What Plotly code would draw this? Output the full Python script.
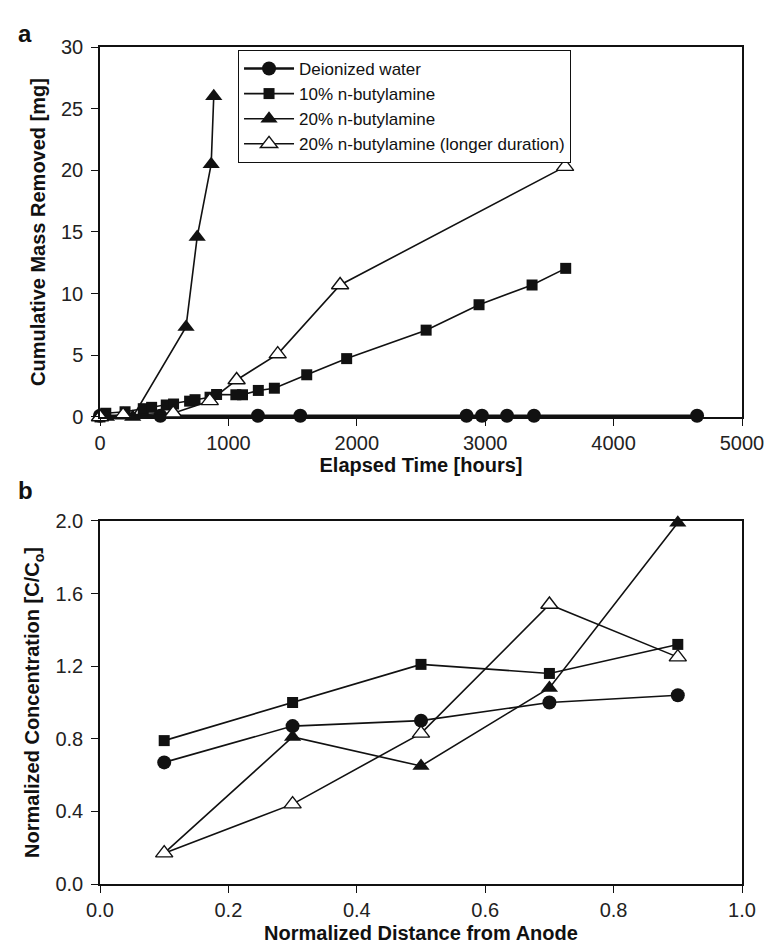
import plotly.graph_objects as go

# ---- panel a data ----
dw_t = [0, 470, 1230, 1560, 2855, 2975, 3170, 3380, 4650]
dw_m = [0.1, 0.1, 0.1, 0.1, 0.1, 0.1, 0.1, 0.1, 0.1]

b10_t = [0, 45, 195, 337, 402, 516, 573, 698, 740, 857, 908, 1058, 1110, 1233, 1358, 1610, 1921, 2540, 2952, 3365, 3627]
b10_m = [0, 0.3, 0.42, 0.67, 0.78, 0.97, 1.05, 1.28, 1.4, 1.6, 1.82, 1.8, 1.8, 2.15, 2.33, 3.42, 4.73, 7.04, 9.1, 10.7, 12.05]

b20_t = [0, 50, 255, 670, 757, 866, 886]
b20_m = [0, 0, 0, 7.3, 14.6, 20.5, 26.0]

b20l_t = [0, 180, 570, 855, 1064, 1384, 1870, 3622]
b20l_m = [0, 0.15, 0.3, 1.3, 3.0, 5.1, 10.7, 20.3]

# ---- panel b data ----
dist = [0.1, 0.3, 0.5, 0.7, 0.9]
c_dw = [0.67, 0.87, 0.90, 1.00, 1.04]
c_b10 = [0.79, 1.00, 1.21, 1.16, 1.32]
c_b20 = [0.17, 0.81, 0.65, 1.08, 1.99]
c_b20l = [0.17, 0.44, 0.83, 1.54, 1.25]

names = ["Deionized water", "10% n-butylamine", "20% n-butylamine",
         "20% n-butylamine (longer duration)"]

BLACK = "#111111"
FONT = "Liberation Sans, Arial, sans-serif"

styles = [
    dict(symbol="circle", size=14, color=BLACK, line=dict(width=0)),
    dict(symbol="square", size=11, color=BLACK, line=dict(width=0)),
    dict(symbol="triangle-up", size=15, color=BLACK, line=dict(width=0)),
    dict(symbol="triangle-up", size=15, color="white", line=dict(width=1.4, color=BLACK)),
]

fig = go.Figure()

top_sets = [(dw_t, dw_m), (b10_t, b10_m), (b20_t, b20_m), (b20l_t, b20l_m)]
for i, (t, m) in enumerate(top_sets):
    fig.add_trace(go.Scatter(
        x=t, y=m, mode="lines+markers", name=names[i],
        line=dict(color=BLACK, width=2.4 if i == 0 else 1.6),
        marker=styles[i], cliponaxis=False,
        xaxis="x", yaxis="y", showlegend=True))

bot_sets = [c_dw, c_b10, c_b20, c_b20l]
for i, c in enumerate(bot_sets):
    fig.add_trace(go.Scatter(
        x=dist, y=c, mode="lines+markers", name=names[i],
        line=dict(color=BLACK, width=1.6),
        marker=styles[i], cliponaxis=False,
        xaxis="x2", yaxis="y2", showlegend=False))

axis_common = dict(
    showline=True, linecolor=BLACK, linewidth=1.5, mirror=True,
    ticks="outside", ticklen=7, tickwidth=1, tickcolor=BLACK,
    showgrid=False, zeroline=False,
    tickfont=dict(family=FONT, size=20, color="#222222"),
    automargin=False,
)
title_font = dict(family=FONT, size=20, color=BLACK)

fig.update_layout(
    width=778, height=952,
    margin=dict(l=100, r=36, t=47, b=68),
    paper_bgcolor="white", plot_bgcolor="white",
    font=dict(family=FONT, color=BLACK),
    xaxis=dict(domain=[0, 1], range=[0, 5000], tickvals=[0, 1000, 2000, 3000, 4000, 5000],
               anchor="y",
               title=dict(text="<b>Elapsed Time [hours]</b>", font=title_font, standoff=3),
               **axis_common),
    yaxis=dict(domain=[0.558, 1], range=[0, 30], tickvals=[0, 5, 10, 15, 20, 25, 30],
               anchor="x", ticklabelstandoff=4,
               title=dict(text="<b>Cumulative Mass Removed [mg]</b>", font=title_font, standoff=10),
               **axis_common),
    xaxis2=dict(domain=[0, 1], range=[0, 1], tickvals=[0, 0.2, 0.4, 0.6, 0.8, 1.0],
                tickformat=".1f", anchor="y2",
                title=dict(text="<b>Normalized Distance from Anode</b>", font=title_font, standoff=6),
                **axis_common),
    yaxis2=dict(domain=[0, 0.4337], range=[0, 2.0], tickvals=[0, 0.4, 0.8, 1.2, 1.6, 2.0],
                tickformat=".1f", anchor="x2", ticklabelstandoff=4,
                title=dict(text="<b>Normalized Concentration [C/C<sub>o</sub>]</b>", font=title_font, standoff=10),
                **axis_common),
    legend=dict(x=0.215, y=0.9965, xanchor="left", yanchor="top",
                bordercolor=BLACK, borderwidth=1, bgcolor="white",
                font=dict(family=FONT, size=17, color=BLACK),
                tracegroupgap=0, itemsizing="trace", itemwidth=50),
)

pw, ph = 778 - 136, 952 - 115
for label, (px, py) in [("a", (16, 18)), ("b", (16, 490))]:
    fig.add_annotation(text="<b>%s</b>" % label,
                       x=(px - 100) / pw, y=(884 - py) / ph,
                       xref="paper", yref="paper", showarrow=False,
                       font=dict(family=FONT, size=24, color=BLACK))

fig.write_html("out.html")
